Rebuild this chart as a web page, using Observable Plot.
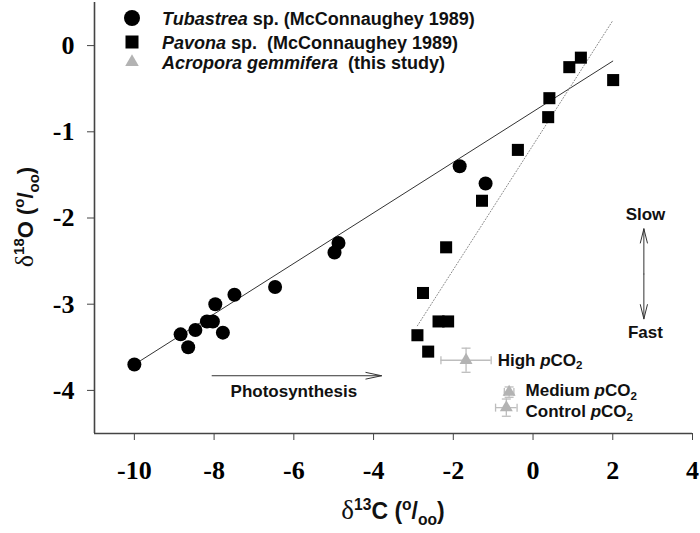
<!DOCTYPE html>
<html>
<head>
<meta charset="utf-8">
<script src="https://cdn.jsdelivr.net/npm/d3@7"></script>
<script src="https://cdn.jsdelivr.net/npm/@observablehq/plot@0.6"></script>
<style>
  html, body { margin: 0; padding: 0; background: #fff; }
</style>
</head>
<body>
<div id="chart"></div>
<script>
// ---- Data ----
// Tubastrea sp. (McConnaughey 1989) — circles
const tubX = [-10, -8.84, -8.65, -8.47, -8.18, -8.03, -7.97, -7.78, -7.49, -6.47, -4.98, -4.88, -1.84, -1.19];
const tubY = [-3.70, -3.35, -3.50, -3.30, -3.20, -3.20, -3.00, -3.33, -2.89, -2.80, -2.40, -2.29, -1.40, -1.60];
// Pavona sp. (McConnaughey 1989) — squares
const pavX = [1.20, 0.91, 2.01, 0.41, 0.38, -0.38, -1.28, -2.18, -2.76, -2.37, -2.13, -2.90, -2.63];
const pavY = [-0.14, -0.25, -0.40, -0.61, -0.83, -1.21, -1.80, -2.34, -2.87, -3.20, -3.20, -3.36, -3.55];
// Acropora gemmifera (this study) — triangles with error bars
const acroNames = ["High", "Medium", "Control"];
const acroX = [-1.68, -0.60, -0.67];
const acroY = [-3.65, -4.02, -4.20];
const acroXErr = [0.63, 0.12, 0.27];
const acroYErr = [0.14, 0.06, 0.10];
// Fitted lines (end points)
const solidFitX = [-10, 2.0];
const solidFitY = [-3.70, -0.18];
const dottedFitX = [-2.9, 2.0];
const dottedFitY = [-3.25, 0.29];
// Axis ticks
const xTicks = [-10, -8, -6, -4, -2, 0, 2, 4];
const yTicks = [-4, -3, -2, -1, 0];
const xDomain = [-11, 4];
const yDomain = [-4.5, 0.5];
// Legend labels
const legendNames = [
  [{t: "Tubastrea", italic: true}, {t: " sp. (McConnaughey 1989)"}],
  [{t: "Pavona", italic: true}, {t: " sp.  (McConnaughey 1989)"}],
  [{t: "Acropora gemmifera", italic: true}, {t: "  (this study)"}]
];

// ---- Annotation placement (data coordinates) ----
const photoArrow = [{x1: -8.05, x2: -3.8, y: -3.83}];
const photoLabel = [{x: -6.0, y: -4.01, t: "Photosynthesis"}];
const rateArrow = [{x: 2.78, ymid: -2.65, ytop: -2.125, ybot: -3.17}];
const rateLabels = [{x: 2.82, y: -1.955, t: "Slow"}, {x: 2.82, y: -3.33, t: "Fast"}];
const pco2Labels = [
  {name: "High", x: -0.875, y: -3.65},
  {name: "Medium", x: -0.175, y: -4.005},
  {name: "Control", x: -0.175, y: -4.25}
];

const tub = tubX.map((x, i) => ({x, y: tubY[i]}));
const pav = pavX.map((x, i) => ({x, y: pavY[i]}));
const acro = acroNames.map((n, i) => ({n, x: acroX[i], y: acroY[i], xe: acroXErr[i], ye: acroYErr[i]}));
const solidFit = solidFitX.map((x, i) => ({x, y: solidFitY[i]}));
const dottedFit = dottedFitX.map((x, i) => ({x, y: dottedFitY[i]}));

const vCap = {draw(ctx, size) { const r = Math.sqrt(size / Math.PI); ctx.moveTo(0, -r); ctx.lineTo(0, r); }};
const hCap = {draw(ctx, size) { const r = Math.sqrt(size / Math.PI); ctx.moveTo(-r, 0); ctx.lineTo(r, 0); }};

const SANS = "Liberation Sans, Arial, sans-serif";
const SERIF = "Liberation Serif, Times New Roman, serif";
const GRAY = "#b3b3b3";
const ERR = "#bdbdbd";

const plot = Plot.plot({
  width: 700,
  height: 533,
  marginLeft: 94,
  marginRight: 8,
  marginTop: 2,
  marginBottom: 100,
  style: {fontFamily: SANS, background: "white", overflow: "visible"},
  x: {domain: xDomain},
  y: {domain: yDomain},
  marks: [
    Plot.axisX(xTicks, {tickSize: 7, tickPadding: 20, fontSize: 26, fontFamily: SERIF, fontWeight: "bold",
      tickFormat: d => String(d), stroke: "#444", fill: "black", label: null}),
    Plot.axisY(yTicks, {tickSize: 7, tickPadding: 13, fontSize: 26, fontFamily: SERIF, fontWeight: "bold",
      tickFormat: d => String(d), stroke: "#444", fill: "black", label: null}),
    Plot.ruleX([xDomain[0]], {stroke: "#444", strokeWidth: 1.6}),
    Plot.ruleY([yDomain[0]], {stroke: "#444", strokeWidth: 1.6}),
    // fits
    Plot.line(solidFit, {x: "x", y: "y", stroke: "#333", strokeWidth: 1}),
    Plot.line(dottedFit, {x: "x", y: "y", stroke: "#888", strokeWidth: 1, strokeDasharray: "1,2"}),
    // arrows
    Plot.arrow(photoArrow, {x1: "x1", x2: "x2", y1: "y", y2: "y", stroke: "#333", strokeWidth: 1, headLength: 24, headAngle: 24}),
    Plot.arrow(rateArrow, {x1: "x", x2: "x", y1: "ymid", y2: "ytop", stroke: "#333", strokeWidth: 1, headLength: 22, headAngle: 28}),
    Plot.arrow(rateArrow, {x1: "x", x2: "x", y1: "ymid", y2: "ybot", stroke: "#333", strokeWidth: 1, headLength: 22, headAngle: 28}),
    Plot.text(photoLabel, {x: "x", y: "y", text: "t", fontSize: 17, fontWeight: "bold", fill: "#111"}),
    Plot.text(rateLabels, {x: "x", y: "y", text: "t", fontSize: 17, fontWeight: "bold", fill: "#111"}),
    // error bars
    Plot.ruleY(acro, {y: "y", x1: d => d.x - d.xe, x2: d => d.x + d.xe, stroke: ERR, strokeWidth: 1.3}),
    Plot.ruleX(acro, {x: "x", y1: d => d.y - d.ye, y2: d => d.y + d.ye, stroke: ERR, strokeWidth: 1.3}),
    Plot.dot(acro, {x: d => d.x - d.xe, y: "y", symbol: vCap, r: 4, stroke: ERR, fill: "none", strokeWidth: 1.3}),
    Plot.dot(acro, {x: d => d.x + d.xe, y: "y", symbol: vCap, r: 4, stroke: ERR, fill: "none", strokeWidth: 1.3}),
    Plot.dot(acro, {x: "x", y: d => d.y - d.ye, symbol: hCap, r: 4.5, stroke: ERR, fill: "none", strokeWidth: 1.3}),
    Plot.dot(acro, {x: "x", y: d => d.y + d.ye, symbol: hCap, r: 4.5, stroke: ERR, fill: "none", strokeWidth: 1.3}),
    // points
    Plot.dot(pav, {x: "x", y: "y", symbol: "square", r: 6.8, fill: "black", stroke: "none"}),
    Plot.dot(tub, {x: "x", y: "y", symbol: "circle", r: 7, fill: "black", stroke: "none"}),
    Plot.dot(acro, {x: "x", y: "y", symbol: "triangle", r: 4.8, fill: GRAY, stroke: "none"})
  ]
});

document.getElementById("chart").appendChild(plot);

// ---- Rich text (super/subscripts, italics) ----
const svg = d3.select(plot);
const sx = plot.scale("x"), sy = plot.scale("y");
function rich(g, x, y, parts, base) {
  const t = g.append("text").attr("x", x).attr("y", y)
    .attr("font-family", base.family || SANS).attr("font-size", base.size)
    .attr("font-weight", base.weight || "bold")
    .attr("text-anchor", base.anchor || "start").attr("fill", base.fill || "#111");
  if (base.rotate) t.attr("transform", `rotate(-90 ${x} ${y})`);
  let shift = 0;
  const subShift = base.subShift ?? 0.28;
  for (const p of parts) {
    const s = p.sup ? -0.40 * base.size : p.sub ? subShift * base.size : 0;
    const ts = t.append("tspan").text(p.t).attr("dy", s - shift);
    shift = s;
    if (p.sup || p.sub) ts.attr("font-size", base.size * 0.68);
    if (p.size) ts.attr("font-size", p.size);
    if (p.italic) ts.attr("font-style", "italic");
    if (p.family) ts.attr("font-family", p.family);
    if (p.weight) ts.attr("font-weight", p.weight);
  }
  return t;
}
const ann = svg.append("g");
// pCO2 labels
for (const d of pco2Labels) {
  rich(ann, sx.apply(d.x), sy.apply(d.y) + 6, [
    {t: d.name + " "}, {t: "p", italic: true}, {t: "CO"}, {t: "2", sub: true}
  ], {size: 17, subShift: 0.22});
}
// Axis titles
rich(ann, 393, 519, [
  {t: "δ", family: SERIF, weight: "normal", size: 27}, {t: "13", sup: true}, {t: "C ("}, {t: "o", sup: true},
  {t: "/"}, {t: "oo", sub: true}, {t: ")"}
], {size: 23, anchor: "middle"});
rich(ann, 33, 217, [
  {t: "δ", family: SERIF, weight: "normal", size: 26}, {t: "18", sup: true}, {t: "O ("}, {t: "o", sup: true},
  {t: "/"}, {t: "oo", sub: true}, {t: ")"}
], {size: 22, anchor: "middle", rotate: true});
// Legend
const leg = svg.append("g");
const legY = [18, 42, 62];
leg.append("circle").attr("cx", 132).attr("cy", legY[0]).attr("r", 8).attr("fill", "black");
leg.append("rect").attr("x", 125.5).attr("y", legY[1] - 6.5).attr("width", 13).attr("height", 13).attr("fill", "black");
leg.append("path").attr("transform", `translate(132,${legY[2]})`)
  .attr("d", d3.symbol(d3.symbolTriangle, 80)()).attr("fill", GRAY);
legendNames.forEach((parts, i) => rich(leg, 162, legY[i] + 6.5, parts, {size: 18}));
</script>
</body>
</html>
